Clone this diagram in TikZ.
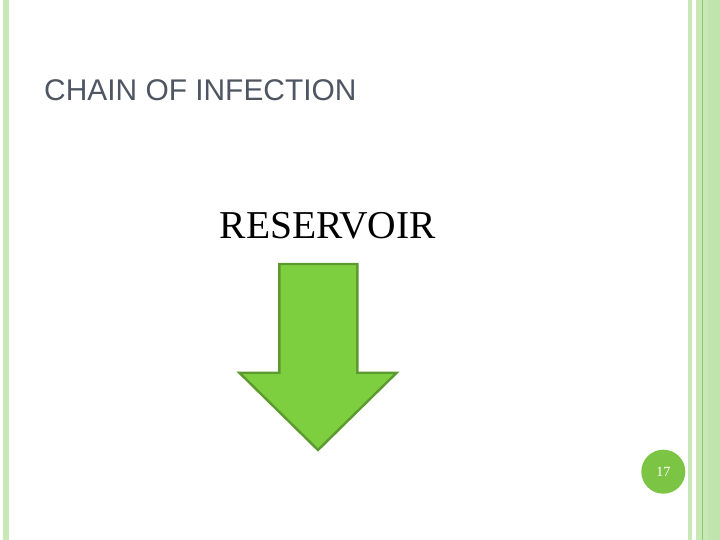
\documentclass[tikz,border=0pt]{standalone}
\usepackage{fontspec}
\setmainfont{Liberation Serif}
\setsansfont{Liberation Sans}
\usepackage{tikz}
\usepackage{xcolor}
\usetikzlibrary{positioning}
\definecolor{stripelight}{HTML}{C8E8B8}
\definecolor{stripemid}{HTML}{C0E4AE}
\definecolor{stripedark}{HTML}{8CCB6A}
\definecolor{titlegray}{HTML}{4F5663}
\definecolor{arrowfill}{HTML}{7ECF40}
\definecolor{arrowline}{HTML}{5C9A30}
\definecolor{numgreen}{HTML}{7CC544}

\begin{document}
\begin{tikzpicture}[x=1pt,y=-1pt]
\useasboundingbox (0,0) rectangle (720,540);
\fill[white] (0,0) rectangle (720,540);

% border stripes
\fill[stripelight] (3,0) rectangle (9,540);
\fill[stripelight] (688,0) rectangle (692,540);
\fill[stripelight] (696,0) rectangle (708,540);
\fill[stripemid] (708,0) rectangle (720,540);
\fill[stripedark] (701.5,0) rectangle (703,540);

% texts
\node[anchor=base west, inner sep=0, text=titlegray, font=\sffamily\fontsize{29.9}{32}\selectfont] (title) at (44,101) {CHAIN OF INFECTION};
\node[anchor=base west, inner sep=0, font=\fontsize{39.5}{42}\selectfont] (reservoir) at (219.5,238) {RESERVOIR};

% arrow
\draw[fill=arrowfill, draw=arrowline, line width=2.4pt, line join=miter]
  (279.3,264) -- (357.3,264) -- (357.3,372.7) -- (396.7,372.7)
  -- (318,450) -- (239.3,372.7) -- (279.3,372.7) -- cycle;

% page number
\node[circle, fill=numgreen, minimum size=44pt, inner sep=0, text=white, font=\fontsize{14}{16}\selectfont] (pagenum) at (663.3,471.7) {17};
\end{tikzpicture}
\end{document}
